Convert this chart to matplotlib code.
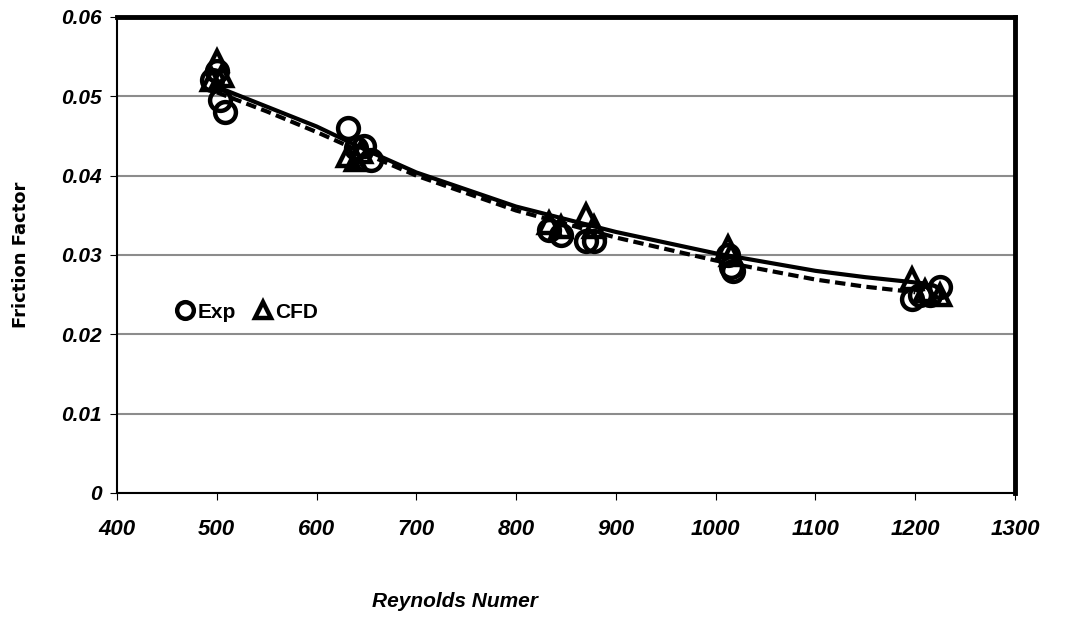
import matplotlib as mpl
import matplotlib.pyplot as plt
import numpy as np

mpl.rcParams["font.family"] = ["Liberation Sans", "DejaVu Sans"]

# experimental points
re_exp = [495, 500, 503, 508, 632, 640, 648, 655, 833, 845, 870, 878, 1012, 1015, 1017, 1197, 1205, 1215, 1225]
f_exp = [0.052, 0.0532, 0.0495, 0.048, 0.046, 0.0435, 0.0437, 0.042, 0.0332, 0.0325, 0.0318, 0.0318,
         0.030, 0.0285, 0.028, 0.0245, 0.025, 0.025, 0.026]

# CFD points
re_cfd = [495, 500, 505, 632, 640, 645, 833, 845, 870, 878, 1012, 1015, 1197, 1210, 1225]
f_cfd = [0.052, 0.0545, 0.0525, 0.0425, 0.042, 0.043, 0.034, 0.0335, 0.035, 0.0335, 0.031, 0.030,
         0.027, 0.0255, 0.025]

# trend lines
re_trend = [500, 550, 600, 650, 700, 800, 900, 1000, 1100, 1150, 1210]
f_trend_exp = [0.0512, 0.0487, 0.0462, 0.0432, 0.0404, 0.0361, 0.0329, 0.0302, 0.0280, 0.0272, 0.0264]
re_trend_cfd = [500, 550, 600, 650, 700, 800, 900, 1000, 1100, 1150, 1200]
f_trend_cfd = [0.0505, 0.0481, 0.0455, 0.0427, 0.0400, 0.0356, 0.0322, 0.0293, 0.0269, 0.0260, 0.0253]

fig = plt.figure(figsize=(10.73, 6.19), dpi=100)
ax = fig.add_axes([0.109, 0.2036, 0.837, 0.769])

ax.plot(re_exp, f_exp, 'o', ms=15, mfc='none', mec='black', mew=3.2, label='Exp', zorder=3)
ax.plot(re_cfd, f_cfd, '^', ms=15, mfc='none', mec='black', mew=3.2, label='CFD', zorder=3)
ax.plot(re_trend, f_trend_exp, '-', color='black', lw=3, zorder=2)
ax.plot(re_trend_cfd, f_trend_cfd, '--', color='black', lw=3, dashes=(2.5, 1.3), zorder=2)

ax.set_xlim(400, 1300)
ax.set_ylim(0, 0.06)
ax.set_xticks(np.arange(400, 1301, 100))
ax.set_yticks(np.arange(0, 0.061, 0.01))
ax.set_yticklabels(['0', '0.01', '0.02', '0.03', '0.04', '0.05', '0.06'])
for lab in ax.get_xticklabels():
    lab.set_fontweight('bold')
    lab.set_fontstyle('italic')
    lab.set_fontsize(16)
for lab in ax.get_yticklabels():
    lab.set_fontweight('bold')
    lab.set_fontstyle('italic')
    lab.set_fontsize(15)
ax.tick_params(axis='x', pad=14, length=5, direction='out')
ax.tick_params(axis='y', pad=6, length=5, direction='out')

ax.grid(axis='y', color='#8c8c8c', lw=1.5)
ax.set_axisbelow(True)
for s in ax.spines.values():
    s.set_linewidth(3.5)
ax.spines['left'].set_linewidth(1.5)
ax.spines['bottom'].set_linewidth(1.5)

ax.set_ylabel('Friction Factor', fontsize=13, fontweight='bold', family='DejaVu Sans', labelpad=22)
fig.text(0.424, 0.02, 'Reynolds Numer', fontsize=15, fontweight='bold', fontstyle='italic', ha='center')

ax.legend(loc='center left', bbox_to_anchor=(0.055, 0.38), frameon=False, ncol=2,
          handlelength=0.8, handletextpad=0.2, columnspacing=0.9, markerscale=0.8,
          borderpad=0, prop={'weight': 'bold', 'size': 15})

plt.savefig('out.png', dpi=100)
